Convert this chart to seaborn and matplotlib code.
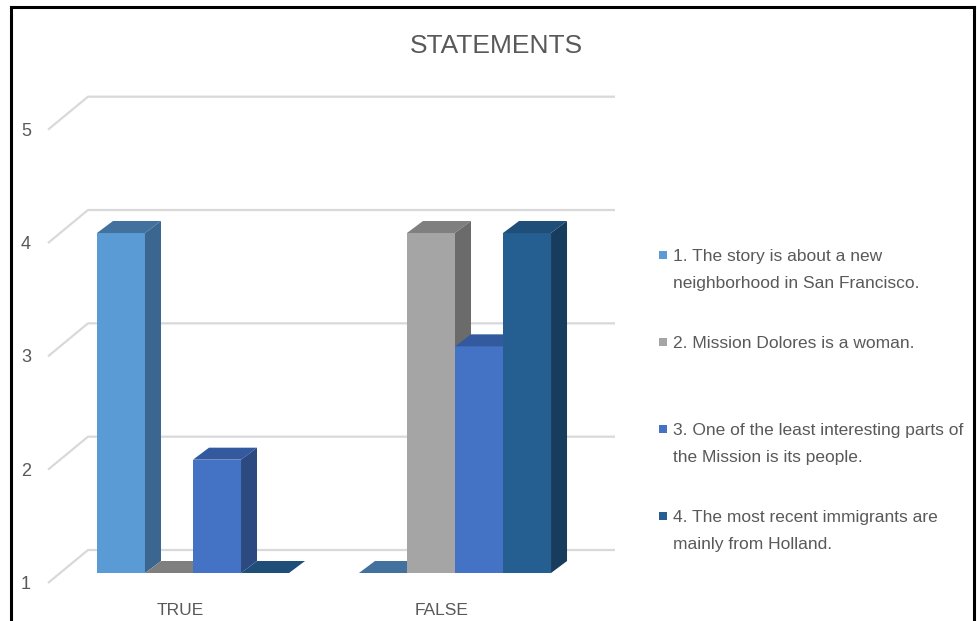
import matplotlib
matplotlib.use("Agg")
import matplotlib.pyplot as plt
from matplotlib.patches import Polygon, Rectangle
from matplotlib.lines import Line2D
import numpy as np
import pandas as pd
import seaborn as sns

# ---- data -------------------------------------------------------------
answers = ["TRUE", "FALSE"]
statements = [
    "1. The story is about a new\nneighborhood in San Francisco.",
    "2. Mission Dolores is a woman.",
    "3. One of the least interesting parts of\nthe Mission is its people.",
    "4. The most recent immigrants are\nmainly from Holland.",
]
true_counts = [4, 1, 2, 1]
false_counts = [1, 4, 3, 4]
y_ticks = [1, 2, 3, 4, 5]
title = "STATEMENTS"

# face colours per series: front, side, top
front_colors = ["#5B9BD5", "#A5A5A5", "#4472C4", "#255E91"]
side_colors = ["#3A6690", "#6B6B6B", "#2C4A80", "#173C5E"]
top_colors = ["#41719C", "#7F7F7F", "#335A9E", "#1F4E79"]

df = pd.DataFrame({
    "answer": np.repeat(answers, len(statements)),
    "statement": statements * len(answers),
    "count": true_counts + false_counts,
})

# ---- figure / fonts ----------------------------------------------------
W, H, DPI = 978, 621, 100
sns.set_style("white")
plt.rcParams["font.family"] = ["Liberation Sans Narrow", "Liberation Sans", "DejaVu Sans"]
TXT = "#595959"

fig = plt.figure(figsize=(W / DPI, H / DPI), dpi=DPI)


def fx(px):
    return px / W


def fy(py):
    return 1 - py / H


# plot area in pixels: value 1 sits on the bottom edge
UX, UY = 262.0, 113.33          # pixels per category / per unit value
X0_PX, BASE_PX = 193.0, 573.0   # centre of first category, baseline of value 1
LEFT_PX, RIGHT_PX, TOP_PX = 48.0, 620.0, 90.0

ax = fig.add_axes([fx(LEFT_PX), fy(BASE_PX), (RIGHT_PX - LEFT_PX) / W, (BASE_PX - TOP_PX) / H])

sns.barplot(data=df, x="answer", y="count", hue="statement", order=answers,
            hue_order=statements, palette=front_colors, saturation=1,
            width=0.733, gap=0, legend=False, ax=ax, linewidth=0)

ax.set_xlim((LEFT_PX - X0_PX) / UX, (RIGHT_PX - X0_PX) / UX)
ax.set_ylim(y_ticks[0], y_ticks[0] + (BASE_PX - TOP_PX) / UY)
for s in ax.spines.values():
    s.set_visible(False)
ax.set_xlabel("")
ax.set_ylabel("")
ax.set_yticks([])
ax.tick_params(axis="x", length=0, pad=0)
ax.set_xticks([])

# depth of the pseudo-3D projection
bar_dx, bar_dy = 16 / UX, 12 / UY          # depth of a bar
wall_dx, wall_dy = 28 / UX, 23 / UY        # bar front -> back wall
front_dx, front_dy = -12 / UX, -10 / UY    # bar front -> floor front edge
wall_right = (615 - X0_PX) / UX

grid_c = "#D9D9D9"
for v in y_ticks:
    xb = ax.get_xlim()[0] + (wall_dx - front_dx)
    yb = v + wall_dy
    ax.add_line(Line2D([ax.get_xlim()[0], xb, wall_right],
                       [v + front_dy, yb, yb], color=grid_c, lw=1.6,
                       clip_on=False, zorder=0.5, solid_capstyle="butt"))
    ax.text(ax.get_xlim()[0] - 22 / UX, v + front_dy - 6 / UY, str(v),
            ha="center", va="baseline", fontsize=13, color=TXT, clip_on=False)

# category labels below the floor
for i, a in enumerate(answers):
    ax.text(i - 13 / UX, y_ticks[0] - 42 / UY, a, ha="center", va="baseline",
            fontsize=12.5, color=TXT, clip_on=False)

# side and top faces of each bar
base = y_ticks[0]
for j, cont in enumerate(ax.containers):
    for p in cont.patches:
        p.set_zorder(2 + j)
        x0 = p.get_x()
        x1 = x0 + p.get_width()
        top = max(p.get_y() + p.get_height(), base)
        top_face = [(x0, top), (x1, top), (x1 + bar_dx, top + bar_dy), (x0 + bar_dx, top + bar_dy)]
        ax.add_patch(Polygon(top_face, closed=True, facecolor=top_colors[j],
                             edgecolor="none", zorder=2 + j, clip_on=False))
        if top > base:
            side_face = [(x1, base), (x1, top), (x1 + bar_dx, top + bar_dy), (x1 + bar_dx, base + bar_dy)]
            ax.add_patch(Polygon(side_face, closed=True, facecolor=side_colors[j],
                                 edgecolor="none", zorder=2 + j, clip_on=False))

# title
fig.text(fx(496), fy(53), title, ha="center", va="baseline", fontsize=19, color=TXT)

# legend
legend_baselines = [261, 348, 435, 522]
for j, (lab, yb) in enumerate(zip(statements, legend_baselines)):
    fig.patches.append(Rectangle((fx(659), fy(yb - 2)), 8 / W, 8 / H, transform=fig.transFigure,
                                 facecolor=front_colors[j], edgecolor="none"))
    for k, line in enumerate(lab.split("\n")):
        fig.text(fx(673), fy(yb + 27 * k), line, ha="left", va="baseline",
                 fontsize=12.5, color=TXT)

# outer frame
frame_kw = dict(color="black", lw=2.2, transform=fig.transFigure, solid_capstyle="projecting")
fig.add_artist(Line2D([fx(11), fx(11)], [fy(7), 0], **frame_kw))
fig.add_artist(Line2D([fx(11), fx(974)], [fy(7), fy(7)], **frame_kw))
fig.add_artist(Line2D([fx(974), fx(974)], [fy(7), 0], **frame_kw))

fig.savefig("out.png", dpi=DPI)
